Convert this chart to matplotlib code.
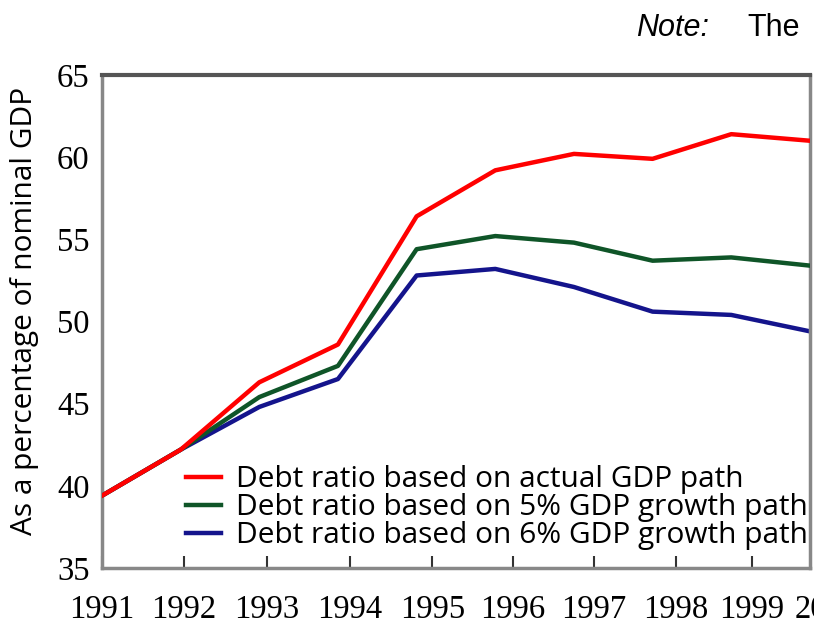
import numpy as np
from matplotlib import pyplot as plt

# data
years = [1991, 1992, 1993, 1994, 1995, 1996, 1997, 1998, 1999, 2000]
actual = [39.4, 42.2, 46.3, 48.6, 56.4, 59.2, 60.2, 59.9, 61.4, 61.0]
growth5 = [39.4, 42.2, 45.4, 47.3, 54.4, 55.2, 54.8, 53.7, 53.9, 53.4]
growth6 = [39.4, 42.2, 44.8, 46.5, 52.8, 53.2, 52.1, 50.6, 50.4, 49.4]
tickLabels = ['1991', '1992', '1993', '1994', '1995', '1996', '1997', '1998', '1999', '2000']
labels = ['Debt ratio based on actual GDP path',
          'Debt ratio based on 5% GDP growth path',
          'Debt ratio based on 6% GDP growth path']

# the source's tick marks don't sit exactly on the data points
tickPos = [1991, 1992.04, 1993.10, 1994.15, 1995.20, 1996.22, 1997.25, 1998.30, 1999.26, 2000.22]

fig = plt.figure(figsize=(8.14, 6.32), dpi=100)
ax = fig.add_axes([0.1253, 0.1013, 0.8697, 0.78])

l1, = ax.plot(years, actual, color='#ff0000', lw=3.2, zorder=4)
l2, = ax.plot(years, growth5, color='#0f5528', lw=3.2, zorder=3)
l3, = ax.plot(years, growth6, color='#14148c', lw=3.2, zorder=2)

ax.set_xlim(1991, 2000)
ax.set_ylim(35, 65)

ax.set_xticks(tickPos[:9])
ax.set_xticklabels(tickLabels[:9], family='Liberation Serif', fontsize=23.5)
# last label sits past the cropped right edge
ax.annotate(tickLabels[9], xy=(tickPos[9], 0), xycoords=('data', 'axes fraction'),
            xytext=(0, -19), textcoords='offset points', ha='center', va='top',
            family='Liberation Serif', fontsize=23.5, annotation_clip=False)

ax.set_yticks([35, 40, 45, 50, 55, 60, 65])
ax.set_yticklabels(['35', '40', '45', '50', '55', '60', '65'], family='Liberation Serif', fontsize=23.5)
ax.tick_params(axis='x', direction='in', length=9, width=1.5, color='#333333', pad=19)
ax.tick_params(axis='y', length=0, pad=9)

for side in ['left', 'bottom', 'right']:
    ax.spines[side].set_color('#888888')
    ax.spines[side].set_linewidth(2.5)
ax.spines['top'].set_color('#555555')
ax.spines['top'].set_linewidth(3)

ax.set_ylabel('As a percentage of nominal GDP', family='Open Sans', fontsize=21.5)
ax.yaxis.set_label_coords(-0.089, 0.521)

ax.legend([l1, l2, l3], labels, loc='upper left', bbox_to_anchor=(0.118, 0.208),
          frameon=False, prop={'family': 'Open Sans', 'size': 21.5},
          handlelength=1.2, handletextpad=0.5, labelspacing=-0.04, borderpad=0, borderaxespad=0)

fig.text(0.782, 0.955, 'Note:', family='Liberation Sans', style='italic', fontsize=22, va='center')
fig.text(0.918, 0.955, 'The', family='Liberation Sans', fontsize=22, va='center')

plt.savefig('out.png', dpi=100)
